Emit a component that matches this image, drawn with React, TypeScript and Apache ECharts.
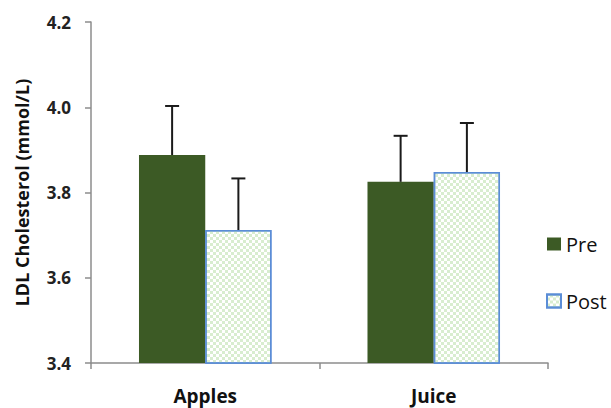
import React, { useEffect, useRef } from "react";
import * as echarts from "echarts";

const categories = ["Apples", "Juice"];
const preValues = [3.888, 3.825];
const postValues = [3.712, 3.848];
const preErrors = [0.115, 0.108];
const postErrors = [0.121, 0.115];
const yTicks = { min: 3.4, max: 4.2, interval: 0.2 };

const CAT_GAP = 0.42;

export default function App() {
  const ref = useRef<HTMLDivElement>(null);
  useEffect(() => {
    const chart = echarts.init(ref.current!, null, { renderer: "svg" });
    const errData = (vals: number[], errs: number[], side: number) =>
      vals.map((v, i) => [i, v, v + errs[i], side]);
    const renderErr = (params: any, api: any) => {
      const i = api.value(0);
      const v = api.value(1);
      const top = api.value(2);
      const side = api.value(3);
      const band = api.size([1, 0])[0];
      const bw = (band * (1 - CAT_GAP)) / 2;
      const base = api.coord([i, v]);
      const topPt = api.coord([i, top]);
      const x = base[0] + side * (bw / 2);
      const cap = 7;
      const style = { stroke: "#1a1a1a", lineWidth: 2 };
      return {
        type: "group",
        children: [
          { type: "line", shape: { x1: x, y1: base[1], x2: x, y2: topPt[1] }, style },
          { type: "line", shape: { x1: x - cap, y1: topPt[1], x2: x + cap, y2: topPt[1] }, style },
        ],
      };
    };
    chart.setOption({
      animation: false,
      textStyle: { fontFamily: "Open Sans" },
      grid: { left: 91, right: 63, top: 22, bottom: 45 },
      legend: {
        orient: "vertical",
        left: 541,
        top: 229,
        itemGap: 37,
        itemWidth: 14,
        itemHeight: 13,
        icon: "rect",
        textStyle: { fontSize: 20, color: "#111", fontFamily: "Open Sans" },
        data: ["Pre", "Post"],
      },
      xAxis: {
        type: "category",
        data: categories,
        axisLine: { lineStyle: { color: "#8c8c8c", width: 1.5 } },
        axisTick: { show: true, length: 6, lineStyle: { color: "#8c8c8c", width: 1.5 } },
        axisLabel: { fontSize: 19, fontWeight: "bold", color: "#111", margin: 23 },
      },
      yAxis: {
        type: "value",
        min: yTicks.min,
        max: yTicks.max,
        interval: yTicks.interval,
        name: "LDL Cholesterol (mmol/L)",
        nameLocation: "middle",
        nameGap: 60,
        nameTextStyle: { fontSize: 18, fontWeight: "bold", color: "#111" },
        axisLine: { show: true, lineStyle: { color: "#8c8c8c", width: 1.5 } },
        axisTick: { show: true, length: 6, lineStyle: { color: "#8c8c8c", width: 1.5 } },
        splitLine: { show: false },
        axisLabel: {
          fontSize: 17,
          fontWeight: "bold",
          color: "#222",
          margin: 20,
          formatter: (v: number) => v.toFixed(1),
        },
      },
      series: [
        {
          name: "Pre",
          type: "bar",
          data: preValues,
          barGap: "0%",
          barCategoryGap: CAT_GAP * 100 + "%",
          itemStyle: { color: "#3c5a25" },
        },
        {
          name: "Post",
          type: "bar",
          data: postValues,
          barGap: "0%",
          barCategoryGap: CAT_GAP * 100 + "%",
          itemStyle: {
            color: "#ffffff",
            borderColor: "#5b8dd6",
            borderWidth: 1.5,
            decal: {
              symbol: "rect",
              symbolSize: 1,
              color: "rgba(190,225,175,0.6)",
              dashArrayX: [[3, 3], [0, 3, 3, 0]],
              dashArrayY: [3, 0],
            },
          },
        },
        {
          type: "custom",
          name: "errPre",
          renderItem: renderErr,
          data: errData(preValues, preErrors, -1),
          z: 10,
        },
        {
          type: "custom",
          name: "errPost",
          renderItem: renderErr,
          data: errData(postValues, postErrors, 1),
          z: 10,
        },
      ],
    });
    return () => chart.dispose();
  }, []);
  return <div ref={ref} style={{ width: 611, height: 408, position: "absolute", left: 0, top: 0 }} />;
}
